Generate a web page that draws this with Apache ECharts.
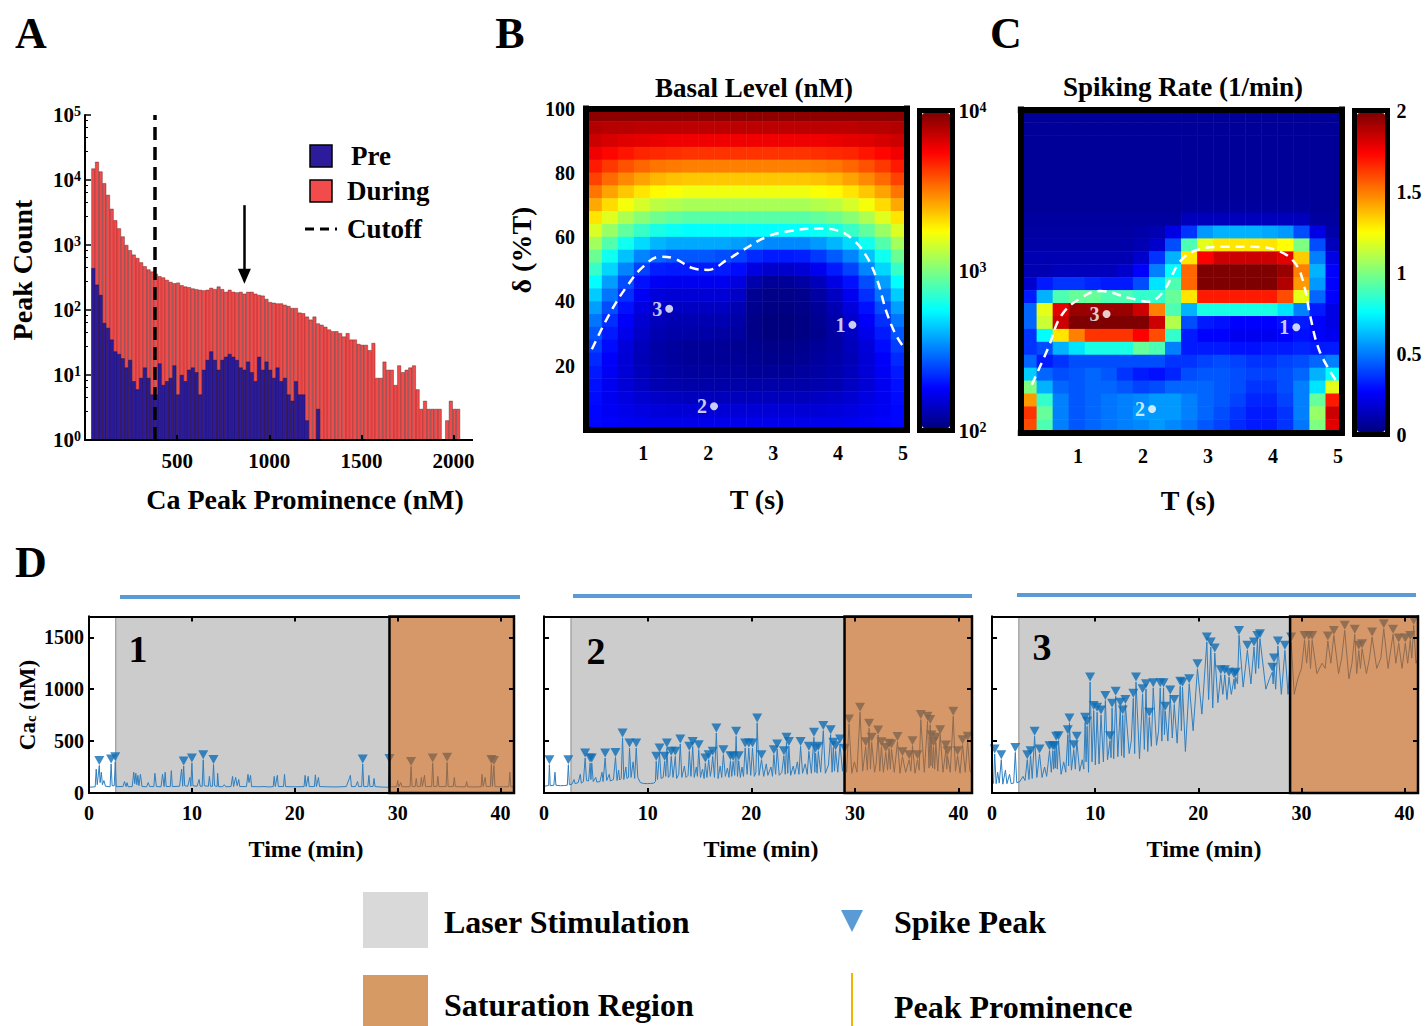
<!DOCTYPE html>
<html>
<head>
<meta charset="utf-8">
<title>Ca peak prominence, basal level, spiking rate</title>
<script src="https://cdn.jsdelivr.net/npm/echarts@6/dist/echarts.min.js"></script>
<style>html,body{margin:0;background:#fff}#main{width:1427px;height:1026px}</style>
</head>
<body>
<div id="main"></div>
<script>
var SERIF = '"Liberation Serif", "Times New Roman", serif';

// ---- A: histogram, 20 nM bins starting at 35 nM
var binStart = 35, binWidth = 20;
var duringCounts = [15000,19000,13500,8900,5900,3600,2400,1800,1350,1000,
  830,710,630,540,470,420,390,360,330,316,
  290,270,257,263,240,229,224,214,209,204,
  200,204,219,209,229,209,190,204,190,186,
  190,178,190,190,178,170,166,148,132,129,
  126,126,120,115,107,107,91,89,79,71,
  79,62,59,55,50,47,47,44,39,44,
  35,35,30,29,29,24,31,9,9,16,
  12,12,7,14,11,12,13,14,6,3,
  4,3,3,3,3,0,2,4,3,3];
var preCounts = [440,245,170,63,53,35,23,21,18,13,
  17,8,6,9,13,9,5,5,15,7,
  8,9,14,5,10,8,12,13,11,5,
  12,17,23,17,12,17,19,21,19,17,
  13,12,16,11,8,19,12,16,12,9,
  13,8,9,5,4,8,5,5,2,0,
  0,3];
var cutoffNm = 380;
var arrowNm = 865, arrowFrom = 4100, arrowTo = 330;

// ---- B: basal level, log10(nM); rows from delta=98 (top) down to delta=2, columns T 0.12..5.06
var basalLog10 = [
  [3.97,3.97,3.97,3.97,3.97,3.97,3.97,3.97,3.97,3.97,3.97,3.97,3.97,3.97,3.97,3.97,3.97,3.97,3.97,3.97],
  [3.90,3.89,3.89,3.88,3.88,3.88,3.88,3.88,3.88,3.88,3.88,3.88,3.88,3.88,3.88,3.88,3.88,3.89,3.89,3.90],
  [3.85,3.83,3.81,3.80,3.79,3.78,3.78,3.78,3.78,3.78,3.78,3.78,3.78,3.78,3.78,3.79,3.80,3.81,3.83,3.85],
  [3.78,3.74,3.71,3.68,3.67,3.66,3.65,3.65,3.65,3.65,3.65,3.65,3.65,3.65,3.66,3.67,3.68,3.71,3.74,3.78],
  [3.70,3.64,3.59,3.55,3.52,3.51,3.50,3.50,3.50,3.50,3.50,3.50,3.50,3.50,3.51,3.52,3.55,3.59,3.64,3.70],
  [3.62,3.54,3.48,3.43,3.39,3.37,3.36,3.36,3.36,3.36,3.36,3.36,3.36,3.36,3.37,3.39,3.43,3.48,3.54,3.62],
  [3.52,3.43,3.36,3.30,3.26,3.24,3.22,3.22,3.22,3.22,3.22,3.22,3.22,3.22,3.24,3.26,3.30,3.36,3.43,3.52],
  [3.42,3.32,3.23,3.17,3.12,3.10,3.08,3.08,3.08,3.08,3.08,3.08,3.08,3.08,3.10,3.12,3.17,3.23,3.32,3.42],
  [3.30,3.19,3.09,3.02,2.97,2.94,2.92,2.92,2.92,2.92,2.92,2.92,2.92,2.92,2.94,2.97,3.02,3.09,3.19,3.30],
  [3.18,3.05,2.94,2.86,2.80,2.77,2.75,2.75,2.75,2.75,2.75,2.75,2.75,2.75,2.77,2.80,2.86,2.94,3.05,3.18],
  [3.07,2.91,2.78,2.68,2.61,2.58,2.58,2.58,2.58,2.56,2.54,2.52,2.52,2.52,2.55,2.61,2.68,2.78,2.91,3.07],
  [2.96,2.78,2.63,2.51,2.45,2.42,2.42,2.42,2.40,2.38,2.33,2.30,2.30,2.31,2.36,2.43,2.51,2.63,2.78,2.96],
  [2.86,2.67,2.51,2.38,2.31,2.30,2.30,2.30,2.30,2.27,2.19,2.15,2.15,2.17,2.22,2.30,2.38,2.51,2.67,2.86],
  [2.75,2.56,2.40,2.28,2.23,2.22,2.22,2.22,2.22,2.19,2.09,2.05,2.05,2.07,2.12,2.20,2.28,2.40,2.56,2.75],
  [2.65,2.48,2.34,2.23,2.18,2.17,2.17,2.17,2.17,2.14,2.04,2.02,2.02,2.03,2.07,2.13,2.22,2.34,2.48,2.65],
  [2.56,2.40,2.28,2.19,2.14,2.13,2.13,2.13,2.13,2.10,2.03,2.01,2.01,2.02,2.05,2.10,2.18,2.28,2.40,2.56],
  [2.48,2.34,2.24,2.16,2.12,2.10,2.10,2.10,2.10,2.08,2.02,2.00,2.00,2.01,2.04,2.08,2.15,2.24,2.34,2.48],
  [2.42,2.30,2.21,2.14,2.10,2.08,2.08,2.08,2.07,2.06,2.02,2.00,2.00,2.01,2.03,2.07,2.13,2.21,2.30,2.42],
  [2.37,2.27,2.18,2.12,2.08,2.06,2.05,2.05,2.05,2.04,2.03,2.02,2.02,2.03,2.05,2.07,2.12,2.18,2.27,2.37],
  [2.33,2.24,2.17,2.11,2.08,2.06,2.05,2.05,2.05,2.05,2.04,2.03,2.03,2.04,2.06,2.08,2.11,2.17,2.24,2.33],
  [2.30,2.23,2.17,2.12,2.09,2.07,2.06,2.06,2.06,2.06,2.05,2.05,2.05,2.06,2.07,2.09,2.12,2.17,2.23,2.30],
  [2.28,2.22,2.17,2.13,2.10,2.09,2.08,2.08,2.08,2.08,2.08,2.08,2.08,2.08,2.09,2.10,2.13,2.17,2.22,2.28],
  [2.27,2.22,2.19,2.16,2.14,2.13,2.12,2.12,2.12,2.12,2.12,2.12,2.12,2.12,2.13,2.14,2.16,2.19,2.22,2.27],
  [2.26,2.23,2.21,2.19,2.18,2.17,2.17,2.17,2.17,2.17,2.17,2.17,2.17,2.17,2.17,2.18,2.19,2.21,2.23,2.26],
  [2.26,2.25,2.23,2.22,2.21,2.21,2.21,2.21,2.21,2.21,2.21,2.21,2.21,2.21,2.21,2.21,2.22,2.23,2.25,2.26]
];
var basalBoundary = [[0.21,25.1],[0.49,36.4],[0.75,44.7],[1.0,50.8],[1.26,53.9],[1.47,53.4],[1.77,50.3],[2.0,49.8],[2.29,52.9],[2.54,56],[2.9,60.1],[3.26,61.9],[3.67,62.7],[3.98,62.1],[4.24,59],[4.44,53.9],[4.6,46.7],[4.75,36.4],[4.9,29.2],[5.04,25]];
var basalPoints = [[1.4,37.7,'3'],[4.22,32.7,'1'],[2.09,7.4,'2']];

// ---- C: spiking rate (1/min), same layout as B
var spikeRate = [
  [0.05,0.05,0.05,0.05,0.05,0.05,0.05,0.05,0.05,0.05,0.05,0.05,0.05,0.05,0.05,0.05,0.05,0.05,0.05,0.05],
  [0.05,0.05,0.05,0.05,0.05,0.05,0.05,0.05,0.05,0.05,0.05,0.05,0.05,0.05,0.05,0.05,0.05,0.05,0.05,0.05],
  [0.05,0.05,0.05,0.05,0.05,0.05,0.05,0.05,0.05,0.05,0.05,0.05,0.05,0.05,0.05,0.05,0.05,0.05,0.05,0.05],
  [0.05,0.05,0.05,0.05,0.05,0.05,0.05,0.05,0.05,0.05,0.05,0.05,0.05,0.05,0.05,0.05,0.05,0.05,0.05,0.05],
  [0.05,0.05,0.05,0.05,0.05,0.05,0.05,0.05,0.05,0.05,0.05,0.05,0.05,0.05,0.05,0.05,0.05,0.05,0.05,0.05],
  [0.05,0.05,0.05,0.05,0.05,0.05,0.05,0.05,0.05,0.05,0.05,0.05,0.05,0.05,0.05,0.05,0.05,0.05,0.05,0.05],
  [0.05,0.05,0.05,0.05,0.05,0.05,0.05,0.05,0.05,0.05,0.05,0.05,0.05,0.05,0.05,0.05,0.05,0.05,0.05,0.05],
  [0.05,0.05,0.05,0.05,0.05,0.05,0.05,0.05,0.05,0.05,0.06,0.06,0.06,0.06,0.06,0.06,0.06,0.06,0.05,0.05],
  [0.06,0.06,0.06,0.06,0.06,0.06,0.06,0.06,0.06,0.06,0.12,0.12,0.12,0.12,0.12,0.12,0.12,0.12,0.06,0.06],
  [0.07,0.07,0.07,0.07,0.07,0.07,0.07,0.08,0.1,0.2,0.35,0.55,0.6,0.6,0.6,0.58,0.55,0.4,0.2,0.08],
  [0.08,0.08,0.08,0.08,0.08,0.08,0.08,0.1,0.15,0.4,0.9,1.2,1.3,1.3,1.3,1.3,1.25,1.0,0.4,0.12],
  [0.1,0.1,0.1,0.1,0.1,0.1,0.1,0.15,0.35,0.6,1.3,1.75,1.85,1.85,1.85,1.85,1.8,1.35,0.5,0.2],
  [0.1,0.1,0.12,0.12,0.12,0.12,0.15,0.25,0.5,0.75,1.55,2.0,2.0,2.0,2.0,2.0,1.95,1.5,0.6,0.25],
  [0.15,0.3,0.35,0.35,0.32,0.3,0.3,0.4,0.7,0.9,1.55,2.0,2.0,2.0,2.0,2.0,1.9,1.45,0.55,0.25],
  [0.3,0.6,0.9,0.95,0.95,0.9,0.9,0.85,0.85,0.95,1.3,1.7,1.7,1.7,1.7,1.7,1.6,1.2,0.45,0.25],
  [0.45,1.2,1.8,1.95,1.95,1.95,1.95,1.85,1.5,0.9,0.6,0.8,0.8,0.8,0.8,0.8,0.7,0.5,0.3,0.2],
  [0.45,1.15,1.85,2.0,2.0,2.0,2.0,2.0,1.85,1.1,0.4,0.3,0.28,0.25,0.25,0.25,0.28,0.3,0.25,0.2],
  [0.35,0.75,1.3,1.5,1.65,1.65,1.65,1.75,1.6,0.85,0.3,0.25,0.25,0.22,0.22,0.22,0.25,0.28,0.25,0.22],
  [0.35,0.4,0.6,0.7,0.8,0.8,0.8,0.95,0.9,0.5,0.3,0.3,0.3,0.28,0.28,0.3,0.3,0.32,0.3,0.3],
  [0.45,0.3,0.35,0.4,0.4,0.4,0.4,0.4,0.4,0.35,0.35,0.38,0.4,0.38,0.35,0.35,0.38,0.4,0.45,0.5],
  [0.65,0.45,0.4,0.42,0.45,0.42,0.35,0.3,0.28,0.32,0.4,0.42,0.42,0.4,0.38,0.38,0.4,0.45,0.6,0.75],
  [1.0,0.6,0.45,0.42,0.45,0.45,0.42,0.38,0.4,0.45,0.45,0.45,0.42,0.4,0.35,0.35,0.4,0.5,0.7,1.2],
  [1.45,0.85,0.5,0.42,0.45,0.48,0.5,0.52,0.55,0.55,0.5,0.45,0.42,0.38,0.32,0.32,0.38,0.5,0.95,1.7],
  [1.65,0.95,0.5,0.42,0.45,0.48,0.5,0.55,0.55,0.55,0.5,0.45,0.4,0.35,0.3,0.3,0.35,0.5,1.05,1.85],
  [1.6,0.9,0.5,0.42,0.45,0.48,0.5,0.52,0.55,0.52,0.48,0.42,0.38,0.33,0.3,0.3,0.35,0.48,1.0,1.8]
];
var rateBoundary = [[0.29,14.8],[0.54,26.1],[0.75,36.4],[1.08,42.1],[1.34,43.8],[1.8,41.6],[2.08,40.5],[2.31,43.6],[2.57,52.9],[2.83,56.5],[3.24,57.5],[3.7,57.5],[4.11,56],[4.36,51.9],[4.49,44.7],[4.57,36.4],[4.72,25.1],[4.98,15.8]];
var ratePoints = [[1.44,36.7,'3'],[4.36,32.6,'1'],[2.14,7.3,'2']];

// ---- D: Ca traces (min, nM); spike peaks and all other trace points
var peaks1 = [[1.0,265],[2.15,280],[2.55,300],[9.2,260],[10.0,290],[11.1,320],[12.1,275],[26.6,280],[29.2,285],[31.3,255],[33.4,290],[34.8,295],[39.1,275],[39.35,265]];
var rest1 = [[0,55],[0.6,60],[0.7,230],[0.8,80],[1.08,100],[1.2,200],[1.3,80],[1.45,120],[1.6,65],[2.05,60],[2.25,70],[2.45,70],[2.65,62],[3.3,62],[3.45,110],[3.6,62],[3.7,100],[3.8,60],[4.2,62],[4.35,200],[4.45,90],[4.55,190],[4.65,80],[4.75,170],[4.85,70],[5.0,180],[5.15,62],[5.6,60],[5.75,100],[5.9,62],[6.3,62],[6.4,190],[6.55,62],[7.0,60],[7.15,180],[7.3,62],[7.4,200],[7.5,62],[7.9,62],[8.0,215],[8.1,62],[8.8,65],[9.0,230],[9.1,65],[9.3,70],[9.6,65],[9.8,150],[9.9,65],[10.1,70],[10.5,65],[10.7,130],[10.8,65],[11.0,65],[11.2,70],[11.6,65],[11.7,160],[11.8,65],[12.0,65],[12.2,70],[12.45,62],[12.5,190],[12.6,62],[13.0,60],[13.15,80],[13.3,60],[13.8,62],[13.95,160],[14.05,62],[14.25,150],[14.4,70],[14.55,130],[14.65,62],[15.3,62],[15.45,180],[15.55,100],[15.7,170],[15.8,62],[16.5,60],[17.0,62],[17.5,58],[17.9,62],[18.0,160],[18.1,62],[18.3,170],[18.4,62],[18.9,62],[19.0,180],[19.1,62],[19.7,60],[20.3,60],[20.9,62],[21.0,170],[21.1,62],[21.3,160],[21.4,62],[21.9,62],[22.0,175],[22.1,62],[22.3,150],[22.4,62],[23.0,60],[24.0,58],[25.0,62],[25.3,140],[25.4,170],[25.5,62],[25.9,62],[26.1,110],[26.2,62],[26.5,62],[26.7,62],[27.1,62],[27.2,170],[27.3,62],[27.6,62],[27.7,140],[27.8,62],[28.3,58],[28.8,56],[29.1,55],[29.3,60],[29.9,60],[30.0,120],[30.1,60],[30.3,100],[30.4,60],[31.1,60],[31.2,60],[31.4,62],[31.7,62],[31.8,140],[31.9,62],[32.2,62],[32.3,150],[32.4,62],[32.6,170],[32.7,62],[33.3,62],[33.5,62],[33.8,62],[33.9,160],[34.0,62],[34.7,62],[34.9,62],[35.4,62],[35.5,150],[35.6,62],[36.0,60],[36.6,60],[36.7,110],[36.8,60],[37.5,58],[38.1,60],[38.2,180],[38.3,62],[38.5,150],[38.6,62],[39.0,62],[39.2,62],[39.45,62],[39.8,60],[40.3,60],[40.8,60],[40.9,200],[41.0,60],[41.3,60]];

var peaks2 = [[0.52,272],[2.35,272],[3.97,337],[4.45,288],[4.61,288],[5.9,337],[6.9,343],[7.58,530],[8.25,433],[8.9,433],[10.83,305],[11.15,385],[11.64,305],[11.86,433],[12.28,353],[12.67,353],[13.15,472],[14.02,401],[14.35,449],[14.93,417],[15.57,288],[15.89,321],[16.28,353],[16.63,578],[17.31,369],[17.99,311],[18.25,305],[18.54,546],[18.79,311],[19.41,433],[19.76,433],[20.12,433],[20.57,675],[20.99,321],[22.18,369],[22.5,424],[23.15,359],[23.4,488],[23.63,449],[24.76,449],[25.56,401],[26.05,536],[26.21,385],[26.47,401],[26.95,601],[27.66,562],[27.92,440],[28.14,408],[28.56,472],[29.01,382],[29.43,665],[30.5,778],[31.04,446],[31.37,623],[31.62,488],[32.24,559],[32.56,446],[32.98,391],[33.3,430],[33.53,424],[34.11,495],[34.59,350],[35.24,321],[35.56,456],[36.04,321],[36.36,707],[37.01,691],[37.27,659],[37.39,511],[37.59,446],[37.81,488],[38.23,562],[38.78,414],[38.94,359],[39.49,739],[39.91,359],[40.39,465],[40.88,498]];
var rest2 = [[0,65],[0.3,70],[0.45,72],[0.6,70],[0.95,75],[1.06,200],[1.15,75],[1.6,70],[2.0,72],[2.25,75],[2.45,80],[2.7,85],[2.9,130],[3.0,90],[3.3,100],[3.5,180],[3.6,95],[3.8,110],[4.1,120],[4.3,115],[4.53,130],[4.75,110],[5.0,150],[5.1,105],[5.4,110],[5.6,200],[5.7,110],[6.05,120],[6.3,180],[6.4,115],[6.7,130],[7.05,120],[7.2,220],[7.3,125],[7.45,140],[7.7,130],[7.9,250],[8.0,140],[8.15,150],[8.4,150],[8.6,300],[8.75,140],[9.05,150],[9.3,100],[9.6,92],[10.0,90],[10.3,92],[10.6,95],[10.75,110],[10.95,130],[11.3,140],[11.5,150],[11.75,160],[12.0,150],[12.15,170],[12.45,150],[12.55,240],[12.8,140],[13.0,180],[13.3,150],[13.55,260],[13.7,150],[13.9,170],[14.18,160],[14.5,150],[14.7,250],[14.8,160],[15.1,150],[15.3,230],[15.45,140],[15.72,150],[16.05,160],[16.15,220],[16.45,150],[16.8,140],[17.0,260],[17.15,150],[17.5,160],[17.7,240],[17.85,150],[18.12,160],[18.4,170],[18.67,160],[18.95,150],[19.1,250],[19.25,160],[19.6,180],[19.95,170],[20.3,160],[20.45,200],[20.75,170],[21.2,160],[21.45,280],[21.6,170],[21.9,250],[22.05,160],[22.35,180],[22.7,170],[22.95,200],[23.28,180],[23.52,190],[23.8,170],[24.05,260],[24.2,180],[24.45,300],[24.6,180],[24.95,190],[25.2,280],[25.4,180],[25.8,190],[26.13,200],[26.35,190],[26.7,200],[27.15,190],[27.45,270],[27.8,200],[28.03,210],[28.35,200],[28.8,210],[29.2,200],[29.7,190],[29.95,300],[30.2,200],[30.75,210],[31.2,220],[31.5,230],[31.9,200],[32.05,280],[32.4,210],[32.75,200],[33.15,220],[33.42,230],[33.8,200],[34.35,190],[34.9,200],[35.4,210],[35.8,190],[36.2,220],[36.7,200],[37.15,240],[37.33,260],[37.5,240],[37.7,230],[38.0,210],[38.5,200],[38.86,230],[39.2,200],[39.7,210],[40.15,190],[40.65,200],[41.1,210],[41.3,200]];

var peaks3 = [[0.26,375],[0.9,321],[2.26,391],[3.42,321],[3.74,359],[4.13,546],[4.61,375],[5.58,408],[5.9,408],[6.06,408],[6.22,498],[6.45,504],[7.35,562],[7.51,675],[7.93,417],[8.22,498],[9.03,681],[9.22,643],[9.51,1068],[9.86,794],[10.19,778],[10.57,752],[10.99,891],[11.44,504],[11.64,817],[11.99,932],[12.44,826],[12.67,752],[12.93,852],[13.7,913],[13.96,1068],[14.6,955],[14.93,1003],[15.25,730],[15.63,1013],[16.31,1013],[16.63,1013],[16.8,788],[17.28,945],[17.67,852],[18.25,1029],[18.47,1019],[19.12,1052],[19.92,1196],[20.83,1454],[21.21,1406],[21.6,1348],[22.18,1139],[22.57,1139],[22.98,1116],[23.47,1100],[23.63,1116],[23.95,1518],[24.76,1374],[25.4,1406],[25.73,1470],[25.98,1486],[27.18,1164],[27.34,1251],[27.72,1415],[28.4,1374],[29.01,1454],[30.3,1470],[30.72,1470],[31.04,1470],[32.56,1464],[33.14,1518],[34.2,1567],[35.17,1528],[35.56,1374],[35.88,1390],[36.85,1502],[37.98,1583],[38.88,1528],[39.43,1444],[40.07,1444],[40.55,1470],[40.88,1615]];
var rest3 = [[0,80],[0.15,95],[0.4,90],[0.55,200],[0.7,95],[1.05,85],[1.3,220],[1.45,90],[1.7,180],[1.85,90],[2.1,95],[2.4,100],[2.7,110],[3.0,160],[3.2,120],[3.58,130],[3.9,140],[4.35,150],[4.85,150],[5.1,250],[5.3,160],[5.75,200],[5.98,230],[6.14,240],[6.33,230],[6.7,180],[6.95,300],[7.15,200],[7.43,260],[7.7,220],[8.08,230],[8.5,210],[8.75,320],[8.9,230],[9.12,300],[9.36,200],[9.7,300],[10.02,270],[10.38,280],[10.8,300],[11.2,320],[11.54,340],[11.8,330],[12.2,350],[12.56,360],[12.8,340],[13.3,380],[13.5,500],[13.83,380],[14.3,330],[14.77,420],[15.1,400],[15.45,450],[15.95,460],[16.15,600],[16.47,500],[16.72,560],[17.05,500],[17.48,530],[17.95,480],[18.36,600],[18.75,400],[19.5,600],[20.35,760],[21.0,900],[21.4,820],[21.9,870],[22.38,950],[22.78,900],[23.2,950],[23.55,1000],[23.8,1050],[24.35,1020],[25.1,1050],[25.56,1150],[25.85,1200],[26.55,1000],[26.9,1100],[27.26,1050],[27.5,1000],[28.05,950],[28.7,950],[29.3,950],[29.65,1100],[30.0,1200],[30.5,1250],[30.88,1200],[31.5,1150],[32.0,1250],[32.3,1200],[32.85,1250],[33.6,1150],[33.9,1300],[34.6,1100],[34.9,1250],[35.36,1150],[35.72,1200],[36.3,1150],[36.6,1300],[37.3,1200],[37.7,1300],[38.4,1200],[39.15,1250],[39.75,1200],[40.3,1250],[40.7,1300],[41.1,1250],[41.3,1300]];

var laserOn = [2.6, 2.6, 2.6];
var saturationOn = [29.2, 29.0, 28.9];
var tMax = 41.3, caMax = 1700;

var JET = ['#00007f','#0000ff','#007fff','#00ffff','#7fff7f','#ffff00','#ff7f00','#ff0000','#7f0000'];

// ---------- helpers
function gridCells(rows) {
  var out = [];
  rows.forEach(function (row, r) {
    row.forEach(function (v, c) { out.push([c, rows.length - 1 - r, v]); });
  });
  return out;
}
function idx(n) { var a = []; for (var i = 0; i < n; i++) a.push(i); return a; }
function traceLine(peaks, rest) { return peaks.concat(rest).sort(function (a, b) { return a[0] - b[0]; }); }
function plain(v) { return String(v); }

function axis(o) {
  return {
    type: o.type || 'value', gridIndex: o.grid, position: o.pos, min: o.min, max: o.max, z: 10,
    axisLine: { show: o.line !== false, onZero: false, lineStyle: { color: '#000', width: o.lw || 2, cap: 'square' } },
    axisTick: o.ticks ? { show: true, inside: true, length: o.tickLen || 5, customValues: o.ticks, lineStyle: { color: '#000', width: 2 } } : { show: false },
    axisLabel: o.labels ? { show: true, customValues: o.labels, formatter: plain, margin: o.margin || 8, color: '#000', fontFamily: SERIF, fontWeight: 'bold', fontSize: o.fs || 20 } : { show: false },
    splitLine: { show: false }
  };
}
var supRich = {
  b: { fontFamily: SERIF, fontWeight: 'bold', fontSize: 21, color: '#000' },
  s: { fontFamily: SERIF, fontWeight: 'bold', fontSize: 14, color: '#000', verticalAlign: 'top' }
};
function powLabel(v) { return '{b|10}{s|' + Math.round(Math.log10(v)) + '}'; }

function txt(s, x, y, size, align, rot) {
  return { type: 'text', x: x, y: y, z: 100, rotation: rot || 0,
    style: { text: s, fill: '#000', font: 'bold ' + size + 'px ' + SERIF, textAlign: align || 'center', textVerticalAlign: 'middle' } };
}

function spanRect(fill, stroke, lw) {
  return function (params, api) {
    var p0 = api.coord([api.value(0), caMax]);
    var p1 = api.coord([api.value(1), 0]);
    return { type: 'rect', shape: { x: p0[0], y: p0[1], width: p1[0] - p0[0], height: p1[1] - p0[1] },
      style: { fill: fill, stroke: stroke, lineWidth: lw } };
  };
}

// ---------- layout
var grids = [
  { left: 85, top: 115, width: 387, height: 325 },
  { left: 586, top: 108.5, width: 321, height: 321.5 },
  { left: 1020.8, top: 109.5, width: 321, height: 323 },
  { left: 919.5, top: 110.5, width: 33, height: 320, show: true, borderWidth: 5, borderColor: '#000' },
  { left: 1354.5, top: 110.5, width: 33, height: 324, show: true, borderWidth: 5, borderColor: '#000' },
  { left: 89, top: 616.5, width: 425, height: 176.5 },
  { left: 544, top: 616.5, width: 428, height: 176.5 },
  { left: 992, top: 616.5, width: 426, height: 176.5 }
];
grids.forEach(function (g) { g.containLabel = false; g.outerBoundsMode = 'none'; });

var xAxes = [], yAxes = [], series = [];

// A
xAxes.push(axis({ grid: 0, pos: 'bottom', min: 0, max: 2100, ticks: [500, 1000, 1500, 2000], labels: [500, 1000, 1500, 2000], margin: 10, fs: 21 }));
yAxes.push({
  type: 'log', gridIndex: 0, logBase: 10, min: 1, max: 100000, z: 10,
  axisLine: { show: true, onZero: false, lineStyle: { color: '#000', width: 2 } },
  axisTick: { show: true, inside: true, length: 6, lineStyle: { color: '#000', width: 1.5 } },
  minorTick: { show: true, splitNumber: 5, length: 3, lineStyle: { color: '#000', width: 1 } },
  axisLabel: { formatter: powLabel, rich: supRich, margin: 4 },
  splitLine: { show: false }
});
var binCenters = duringCounts.map(function (_, i) { return binStart + binWidth * (i + 0.5); });
series.push({
  name: 'During', type: 'bar', xAxisIndex: 0, yAxisIndex: 0, barWidth: 3.7, barGap: '-100%',
  data: duringCounts.map(function (c, i) { return [binCenters[i], c > 0 ? c : '-']; }),
  itemStyle: { color: '#f24b4b', borderColor: '#4a1515', borderWidth: 0.4 },
  markLine: {
    silent: true, symbol: ['none', 'none'], label: { show: false }, animation: false,
    data: [
      { xAxis: cutoffNm, lineStyle: { color: '#000', width: 3.5, type: [13, 7] } },
      [{ coord: [arrowNm, arrowFrom], symbol: 'none' },
       { coord: [arrowNm, arrowTo], symbol: 'triangle', symbolSize: [13, 15], lineStyle: { color: '#000', width: 2.5, type: 'solid' } }]
    ]
  }
});
series.push({
  name: 'Pre', type: 'bar', xAxisIndex: 0, yAxisIndex: 0, barWidth: 3.7, barGap: '-100%',
  data: preCounts.map(function (c, i) { return [binCenters[i], c > 0 ? c : '-']; }),
  itemStyle: { color: '#2c1c9c', borderColor: '#12083a', borderWidth: 0.4 }
});

// B and C heatmaps
function heatPanel(gi, rows, boundary, points) {
  var xi = xAxes.length, yi = yAxes.length;
  xAxes.push({ type: 'category', gridIndex: gi, data: idx(rows[0].length), show: false });
  yAxes.push({ type: 'category', gridIndex: gi, data: idx(rows.length), show: false });
  xAxes.push(axis({ grid: gi, pos: 'bottom', min: 0.12, max: 5.06, lw: 6, labels: [1, 2, 3, 4, 5], margin: 13 }));
  xAxes.push(axis({ grid: gi, pos: 'top', min: 0.12, max: 5.06, lw: 6 }));
  yAxes.push(axis({ grid: gi, pos: 'left', min: 0, max: 100, lw: 6, labels: gi === 1 ? [20, 40, 60, 80, 100] : null, margin: 11 }));
  yAxes.push(axis({ grid: gi, pos: 'right', min: 0, max: 100, lw: 6 }));
  var hs = series.length;
  series.push({ type: 'heatmap', xAxisIndex: xi, yAxisIndex: yi, data: gridCells(rows), progressive: 0, emphasis: { disabled: true } });
  series.push({ type: 'line', xAxisIndex: xi + 1, yAxisIndex: yi + 1, data: boundary, smooth: 0.4, symbol: 'none', z: 5,
    lineStyle: { color: '#ffffff', width: 2.5, type: [9, 6] } });
  series.push({ type: 'scatter', xAxisIndex: xi + 1, yAxisIndex: yi + 1, data: points, symbolSize: 8, z: 6,
    itemStyle: { color: '#ffffff' },
    label: { show: true, position: 'left', distance: 3, formatter: function (p) { return p.data[2]; },
      color: '#fff', fontFamily: SERIF, fontWeight: 'bold', fontSize: 20 } });
  return hs;
}
var basalSeries = heatPanel(1, basalLog10, basalBoundary, basalPoints);
var rateSeries = heatPanel(2, spikeRate, rateBoundary, ratePoints);

// colour bars
xAxes.push({ type: 'value', gridIndex: 3, show: false });
yAxes.push({ type: 'log', gridIndex: 3, logBase: 10, min: 100, max: 10000, position: 'right',
  axisLine: { show: false }, axisTick: { show: false }, splitLine: { show: false },
  axisLabel: { formatter: powLabel, rich: supRich, margin: 6 } });
xAxes.push({ type: 'value', gridIndex: 4, show: false });
yAxes.push(axis({ grid: 4, pos: 'right', min: 0, max: 2, line: false, labels: [0, 0.5, 1, 1.5, 2], margin: 9 }));

// D traces
var traces = [[peaks1, rest1], [peaks2, rest2], [peaks3, rest3]];
traces.forEach(function (tr, k) {
  var gi = 5 + k;
  var xi = xAxes.length, yi = yAxes.length;
  xAxes.push(axis({ grid: gi, pos: 'bottom', min: 0, max: tMax, ticks: [10, 20, 30, 40], labels: [0, 10, 20, 30, 40], margin: 10 }));
  xAxes.push(axis({ grid: gi, pos: 'top', min: 0, max: tMax, ticks: [10, 20, 30, 40] }));
  yAxes.push(axis({ grid: gi, pos: 'left', min: 0, max: caMax, ticks: [500, 1000, 1500], labels: k === 0 ? [0, 500, 1000, 1500] : null, margin: 5 }));
  yAxes.push(axis({ grid: gi, pos: 'right', min: 0, max: caMax, ticks: [500, 1000, 1500] }));
  series.push({ type: 'custom', xAxisIndex: xi, yAxisIndex: yi, z: 1, silent: true,
    renderItem: spanRect('#cccccc', '#8c8c8c', 1), data: [[laserOn[k], saturationOn[k]]] });
  series.push({ type: 'line', xAxisIndex: xi, yAxisIndex: yi, z: 2, showSymbol: false, symbol: 'none',
    data: traceLine(tr[0], tr[1]), lineStyle: { color: '#2f7fc0', width: 1 } });
  series.push({ type: 'scatter', xAxisIndex: xi, yAxisIndex: yi, z: 3, data: tr[0],
    symbol: 'triangle', symbolRotate: 180, symbolSize: [10, 9], symbolOffset: [0, -5],
    itemStyle: { color: '#0e6db5' } });
  series.push({ type: 'custom', xAxisIndex: xi, yAxisIndex: yi, z: 8, silent: true,
    renderItem: spanRect('rgba(192,97,23,0.65)', '#000', 2.5), data: [[saturationOn[k], tMax]] });
});

var graphics = [
  txt('A', 31, 33, 44), txt('B', 510, 33, 44), txt('C', 1006, 33, 44), txt('D', 31, 562, 44),
  txt('Peak Count', 22, 270, 28, 'center', Math.PI / 2),
  txt('Ca Peak Prominence (nM)', 305, 499, 28),
  { type: 'rect', z: 100, shape: { x: 310, y: 145, width: 22, height: 22 }, style: { fill: '#2c1c9c', stroke: '#000', lineWidth: 1.5 } },
  txt('Pre', 351, 156, 27, 'left'),
  { type: 'rect', z: 100, shape: { x: 310, y: 180, width: 22, height: 22 }, style: { fill: '#f24b4b', stroke: '#000', lineWidth: 1.5 } },
  txt('During', 347, 191, 27, 'left'),
  { type: 'line', z: 100, shape: { x1: 305, y1: 229, x2: 337, y2: 229 }, style: { stroke: '#000', lineWidth: 3, lineDash: [9, 6] } },
  txt('Cutoff', 347, 229, 27, 'left'),
  txt('Basal Level (nM)', 754, 88, 27),
  txt('Spiking Rate (1/min)', 1183, 87, 27),
  txt('T (s)', 757, 499, 28), txt('T (s)', 1188, 500, 28),
  txt('\u03b4 (%T)', 521, 250, 28, 'center', Math.PI / 2),
  txt('1', 138, 649, 38), txt('2', 596, 651, 38), txt('3', 1042, 647, 38),
  txt('Time (min)', 306, 849, 24), txt('Time (min)', 761, 849, 24), txt('Time (min)', 1204, 849, 24),
  { type: 'text', x: 27, y: 705, z: 100, rotation: Math.PI / 2,
    style: { text: '{a|Ca}{s|c}{a| (nM)}', textAlign: 'center', textVerticalAlign: 'middle',
      rich: { a: { font: 'bold 23px ' + SERIF, fill: '#000' }, s: { font: 'bold 15px ' + SERIF, fill: '#000', verticalAlign: 'bottom' } } } },
  { type: 'line', z: 100, shape: { x1: 120, y1: 597, x2: 520, y2: 597 }, style: { stroke: '#5b9bd5', lineWidth: 4 } },
  { type: 'line', z: 100, shape: { x1: 573, y1: 596, x2: 972, y2: 596 }, style: { stroke: '#5b9bd5', lineWidth: 4 } },
  { type: 'line', z: 100, shape: { x1: 1017, y1: 595, x2: 1416, y2: 595 }, style: { stroke: '#5b9bd5', lineWidth: 4 } },
  { type: 'rect', z: 100, shape: { x: 363, y: 892, width: 65, height: 56 }, style: { fill: '#d9d9d9' } },
  txt('Laser Stimulation', 444, 922, 32, 'left'),
  { type: 'rect', z: 100, shape: { x: 363, y: 975, width: 65, height: 51 }, style: { fill: '#d69a64' } },
  txt('Saturation Region', 444, 1005, 32, 'left'),
  { type: 'polygon', z: 100, shape: { points: [[841, 910], [863, 910], [852, 932]] }, style: { fill: '#5b9bd5' } },
  txt('Spike Peak', 894, 922, 32, 'left'),
  { type: 'line', z: 100, shape: { x1: 852, y1: 973, x2: 852, y2: 1026 }, style: { stroke: '#f0b400', lineWidth: 2 } },
  txt('Peak Prominence', 894, 1007, 32, 'left')
];

var option = {
  backgroundColor: '#ffffff',
  animation: false,
  grid: grids,
  xAxis: xAxes,
  yAxis: yAxes,
  visualMap: [
    { type: 'continuous', seriesIndex: basalSeries, min: 2, max: 4, inRange: { color: JET },
      left: 922, top: 113, itemWidth: 28, itemHeight: 315, padding: 0, calculable: false, hoverLink: false, show: true },
    { type: 'continuous', seriesIndex: rateSeries, min: 0, max: 2, inRange: { color: JET },
      left: 1357, top: 113, itemWidth: 28, itemHeight: 319, padding: 0, calculable: false, hoverLink: false, show: true }
  ],
  graphic: graphics,
  series: series
};

var myChart = echarts.init(document.getElementById('main'), null, { renderer: 'svg' });
myChart.setOption(option);
</script>
</body>
</html>
